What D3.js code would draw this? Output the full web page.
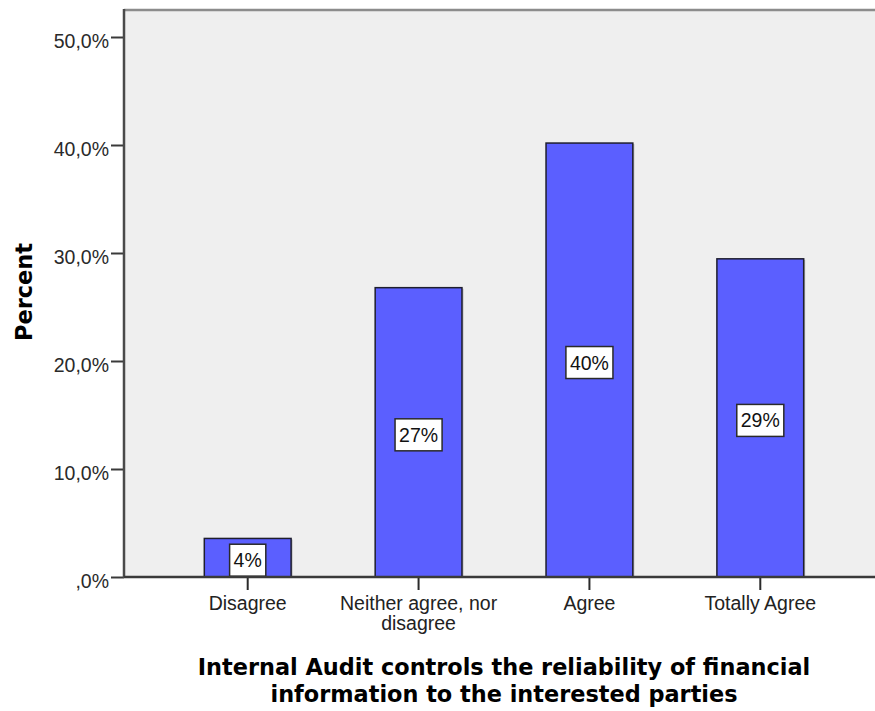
<!DOCTYPE html>
<html>
<head>
<meta charset="utf-8">
<script src="https://cdn.jsdelivr.net/npm/d3@7/dist/d3.min.js"></script>
<style>
  html, body { margin: 0; padding: 0; background: #ffffff; }
  svg { display: block; }
</style>
</head>
<body>
<svg id="chart" width="875" height="711"></svg>
<script>
// Response categories and the share of respondents (percent) for each
const categories = ["Disagree", "Neither agree, nor disagree", "Agree", "Totally Agree"];
const percents = [3.57, 26.79, 40.18, 29.46];

// Y axis ticks and their printed labels (comma decimal style)
const yTickValues = [0, 10, 20, 30, 40, 50];
const yTickLabels = [",0%", "10,0%", "20,0%", "30,0%", "40,0%", "50,0%"];

const yTitle = "Percent";
const xTitle = "Internal Audit controls the reliability of financial information to the interested parties";

const W = 875, H = 711;
const plot = { left: 124, right: 884, top: 10, bottom: 577 };

const svg = d3.select("#chart");

const x = d3.scaleBand()
  .domain(categories)
  .range([plot.left, plot.right])
  .paddingInner(0.492)
  .paddingOuter(0.47);

const y = d3.scaleLinear()
  .domain([0, 52.5])
  .range([plot.bottom, plot.top]);

const sans = "'Liberation Sans', Arial, sans-serif";
const bold = "'DejaVu Sans', Verdana, sans-serif";

// plot background
svg.append("rect")
  .attr("x", plot.left).attr("y", plot.top)
  .attr("width", plot.right - plot.left).attr("height", plot.bottom - plot.top)
  .attr("fill", "#efefef");

// top frame line
svg.append("line")
  .attr("x1", plot.left).attr("x2", plot.right)
  .attr("y1", plot.top).attr("y2", plot.top)
  .attr("stroke", "#8c8c8c").attr("stroke-width", 2.5);

// bars: soft shadow then fill
const bars = svg.append("g");
bars.selectAll("rect.shadow")
  .data(categories)
  .join("rect")
  .attr("class", "shadow")
  .attr("x", d => x(d) + 1.5)
  .attr("y", (d, i) => y(percents[i]) + 1)
  .attr("width", x.bandwidth())
  .attr("height", (d, i) => plot.bottom - y(percents[i]) - 1)
  .attr("fill", "#b8b8b8");

bars.selectAll("rect.bar")
  .data(categories)
  .join("rect")
  .attr("class", "bar")
  .attr("x", d => x(d))
  .attr("y", (d, i) => y(percents[i]))
  .attr("width", x.bandwidth())
  .attr("height", (d, i) => plot.bottom - y(percents[i]))
  .attr("fill", "#5b5fff")
  .attr("stroke", "#1e1e2e")
  .attr("stroke-width", 1.5);

// value labels in white boxes, centred on each bar
const fmt = v => d3.format(".0f")(v) + "%";
const labels = svg.append("g");
categories.forEach((c, i) => {
  const cx = x(c) + x.bandwidth() / 2;
  const cy = (y(percents[i]) + y(0)) / 2 + 2.5;
  const g = labels.append("g");
  const t = g.append("text")
    .attr("x", cx).attr("y", cy + 7)
    .attr("text-anchor", "middle")
    .attr("font-family", sans).attr("font-size", 19.5)
    .attr("fill", "#111")
    .text(fmt(percents[i]));
  const tw = t.node().getComputedTextLength();
  const bw = tw + 8, bh = 32;
  g.insert("rect", "text")
    .attr("x", cx - bw / 2).attr("y", cy - bh / 2)
    .attr("width", bw).attr("height", bh)
    .attr("fill", "#ffffff")
    .attr("stroke", "#2a2a2a").attr("stroke-width", 1.5);
});

// y axis
const yAxis = d3.axisLeft(y)
  .tickValues(yTickValues)
  .tickSize(13)
  .tickPadding(2)
  .tickFormat((d, i) => yTickLabels[i]);

const gy = svg.append("g")
  .attr("transform", `translate(${plot.left},0)`)
  .call(yAxis);
gy.select(".domain").remove();
gy.selectAll(".tick line").attr("stroke", "#3a3a3a").attr("stroke-width", 2);
gy.selectAll(".tick text")
  .attr("font-family", sans).attr("font-size", 19.5)
  .attr("fill", "#2a2a2a")
  .attr("dy", null).attr("y", 10.5);

svg.append("line")
  .attr("x1", plot.left).attr("x2", plot.left)
  .attr("y1", plot.top - 1).attr("y2", plot.bottom + 1)
  .attr("stroke", "#4a4a4a").attr("stroke-width", 2.5);

// x axis
const xAxis = d3.axisBottom(x).tickSize(13).tickPadding(0).tickSizeOuter(0);
const gx = svg.append("g")
  .attr("transform", `translate(0,${plot.bottom})`)
  .call(xAxis);
gx.select(".domain").remove();
gx.selectAll(".tick line").attr("stroke", "#2a2a2a").attr("stroke-width", 2);
gx.selectAll(".tick text").remove();

svg.append("line")
  .attr("x1", plot.left).attr("x2", plot.right)
  .attr("y1", plot.bottom).attr("y2", plot.bottom)
  .attr("stroke", "#3a3a3a").attr("stroke-width", 2.5);

// word-wrap helper that returns lines fitting within maxW
function wrapLines(text, maxW, font, size, weight) {
  const probe = svg.append("text")
    .attr("font-family", font).attr("font-size", size)
    .attr("font-weight", weight || "normal");
  const words = text.split(" ");
  const lines = [];
  let line = "";
  words.forEach(w => {
    const trial = line ? line + " " + w : w;
    probe.text(trial);
    if (probe.node().getComputedTextLength() > maxW && line) {
      lines.push(line);
      line = w;
    } else {
      line = trial;
    }
  });
  if (line) lines.push(line);
  probe.remove();
  return lines;
}

// category labels
categories.forEach(c => {
  const cx = x(c) + x.bandwidth() / 2;
  const lines = wrapLines(c, x.step(), sans, 19.5);
  const t = svg.append("text")
    .attr("text-anchor", "middle")
    .attr("font-family", sans).attr("font-size", 19.5)
    .attr("fill", "#222");
  lines.forEach((ln, k) => {
    t.append("tspan").attr("x", cx).attr("y", plot.bottom + 33 + k * 20).text(ln);
  });
});

// x axis title
const titleLines = wrapLines(xTitle, 700, bold, 22.4, "bold");
const xt = svg.append("text")
  .attr("text-anchor", "middle")
  .attr("font-family", bold).attr("font-size", 22.4).attr("font-weight", "bold")
  .attr("fill", "#000");
titleLines.forEach((ln, k) => {
  xt.append("tspan").attr("x", (plot.left + plot.right) / 2).attr("y", 675 + k * 27).text(ln);
});

// y axis title
svg.append("text")
  .attr("transform", `translate(31.5,292) rotate(-90)`)
  .attr("text-anchor", "middle")
  .attr("font-family", bold).attr("font-size", 22.5).attr("font-weight", "bold")
  .attr("fill", "#000")
  .text(yTitle);
</script>
</body>
</html>
